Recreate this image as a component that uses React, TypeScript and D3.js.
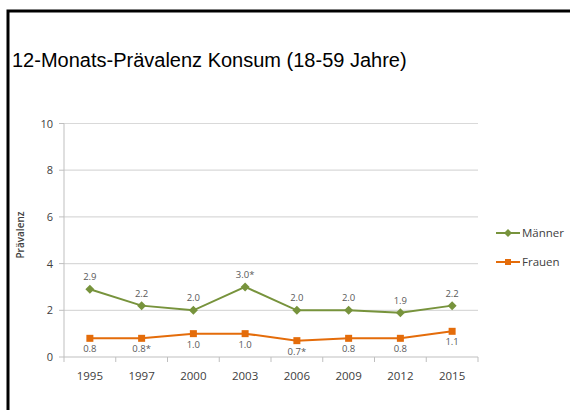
import React from "react";
import * as d3 from "d3";

const years = ["1995", "1997", "2000", "2003", "2006", "2009", "2012", "2015"];
const maenner = [2.9, 2.2, 2.0, 3.0, 2.0, 2.0, 1.9, 2.2];
const frauen = [0.8, 0.8, 1.0, 1.0, 0.7, 0.8, 0.8, 1.1];
const maennerLabels = ["2.9", "2.2", "2.0", "3.0*", "2.0", "2.0", "1.9", "2.2"];
const frauenLabels = ["0.8", "0.8*", "1.0", "1.0", "0.7*", "0.8", "0.8", "1.1"];
const yTicks = [0, 2, 4, 6, 8, 10];
const seriesNames = ["Männer", "Frauen"];

export default function App() {
  const W = 570, H = 410;
  const left = 64, right = 478, top = 123.5, bottom = 357;
  const x = d3.scaleBand().domain(years).range([left, right]);
  const y = d3.scaleLinear().domain([0, 10]).range([bottom, top]);
  const cx = (d: string) => (x(d) as number) + x.bandwidth() / 2;
  const green = "#77933C";
  const orange = "#E46C0A";
  const line = d3.line<number>().x((_, i) => cx(years[i])).y((v) => y(v));
  const font = "'Open Sans', 'Liberation Sans', sans-serif";
  const diamond = (px: number, py: number, r: number) =>
    `M${px},${py - r}L${px + r},${py}L${px},${py + r}L${px - r},${py}Z`;
  const boundaries = d3.range(years.length + 1).map((i) => left + i * x.bandwidth());

  return (
    <svg width={W} height={H} style={{ position: "absolute", left: 0, top: 0 }}>
      <rect x={0} y={0} width={W} height={H} fill="#fff" />
      <rect x={8} y={11} width={W + 20} height={H + 20} fill="none" stroke="#000" strokeWidth={3} />
      <text x={12} y={67} fontFamily="'Liberation Sans', Arial, sans-serif" fontSize={20} fill="#000">
        12-Monats-Prävalenz Konsum (18-59 Jahre)
      </text>
      {yTicks.map((t) => (
        <g key={t}>
          {t > 0 && <line x1={left} x2={right} y1={y(t)} y2={y(t)} stroke="#d9d9d9" strokeWidth={1.2} />}
          <line x1={left - 5} x2={left} y1={y(t)} y2={y(t)} stroke="#bfbfbf" />
          <text x={53} y={y(t) + 4} textAnchor="end" fontFamily={font} fontSize={11} fill="#404040">
            {t}
          </text>
        </g>
      ))}
      <line x1={left} x2={left} y1={top} y2={bottom} stroke="#bfbfbf" />
      <line x1={left} x2={right} y1={bottom} y2={bottom} stroke="#bfbfbf" />
      {boundaries.map((b, i) => (
        <line key={i} x1={b} x2={b} y1={bottom} y2={bottom + 5} stroke="#bfbfbf" />
      ))}
      {years.map((yr) => (
        <text key={yr} x={cx(yr)} y={380} textAnchor="middle" fontFamily={font} fontSize={11.5} fill="#404040">
          {yr}
        </text>
      ))}
      <text
        transform={`translate(24,235) rotate(-90)`}
        textAnchor="middle"
        fontFamily={font}
        fontSize={10}
        fontWeight={600}
        fill="#404040"
      >
        Prävalenz
      </text>
      <path d={line(maenner) as string} fill="none" stroke={green} strokeWidth={2} />
      <path d={line(frauen) as string} fill="none" stroke={orange} strokeWidth={2} />
      {maenner.map((v, i) => (
        <path key={"m" + i} d={diamond(cx(years[i]), y(v), 4.5)} fill={green} />
      ))}
      {frauen.map((v, i) => (
        <rect key={"f" + i} x={cx(years[i]) - 3.5} y={y(v) - 3.5} width={7} height={7} fill={orange} />
      ))}
      {maenner.map((v, i) => (
        <text key={"ml" + i} x={cx(years[i])} y={y(v) - 9} textAnchor="middle" fontFamily={font} fontSize={9.5} fill="#595959">
          {maennerLabels[i]}
        </text>
      ))}
      {frauen.map((v, i) => (
        <text key={"fl" + i} x={cx(years[i])} y={y(v) + 14} textAnchor="middle" fontFamily={font} fontSize={9.5} fill="#595959">
          {frauenLabels[i]}
        </text>
      ))}
      {seriesNames.map((n, i) => {
        const ly = 233 + i * 29;
        const c = i === 0 ? green : orange;
        return (
          <g key={n}>
            <line x1={496} x2={520} y1={ly} y2={ly} stroke={c} strokeWidth={2} />
            {i === 0 ? (
              <path d={diamond(508, ly, 4)} fill={c} />
            ) : (
              <rect x={505} y={ly - 3} width={6} height={6} fill={c} />
            )}
            <text x={522} y={ly + 4} fontFamily={font} fontSize={11.5} fill="#404040">
              {n}
            </text>
          </g>
        );
      })}
    </svg>
  );
}
